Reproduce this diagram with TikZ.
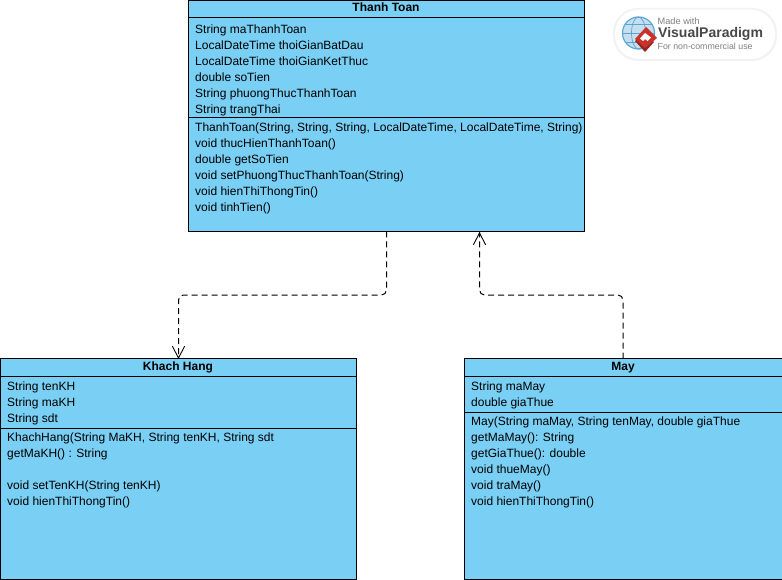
\documentclass[tikz,border=0pt]{standalone}
\usepackage{fontspec}
\setmainfont{Liberation Sans}
\usetikzlibrary{arrows.meta}
\definecolor{classfill}{HTML}{7ACFF5}
\definecolor{logogray}{HTML}{808080}
\definecolor{logodark}{HTML}{484848}
\definecolor{logoblue}{HTML}{5AA5D5}
\definecolor{logored}{HTML}{C8322B}
\tikzset{
  classbox/.style={draw=black,fill=classfill,line width=1pt,anchor=north west,inner sep=0pt,outer sep=0pt},
  classtitle/.style={font=\fontsize{12}{14}\selectfont\bfseries,inner sep=0pt,anchor=base},
  members/.style={font=\fontsize{12}{16}\selectfont,align=left,inner sep=0pt,anchor=north west},
  depend/.style={draw=black,line width=1pt,dash pattern=on 6pt off 4pt,rounded corners=5pt},
  depthead/.style={draw=black,line width=0.9pt,line cap=round},
  logotext/.style={inner sep=0pt,anchor=west}
}
\begin{document}
\begin{tikzpicture}[x=1pt,y=-1pt]
\useasboundingbox (0,0) rectangle (782,580);
\fill[white] (0,0) rectangle (782,580);
% class boxes
\node[classbox,minimum width=396pt,minimum height=231pt] (tt) at (188.5,0.5) {};
\node[classbox,minimum width=356pt,minimum height=221pt] (kh) at (0.5,358.5) {};
\node[classbox,minimum width=318pt,minimum height=221pt] (mm) at (464.5,358.5) {};
% compartment rules
\draw[line width=1pt] ([yshift=-17pt]tt.north west) -- ([yshift=-17pt]tt.north east);
\draw[line width=1pt] ([yshift=-117pt]tt.north west) -- ([yshift=-117pt]tt.north east);
\draw[line width=1pt] ([yshift=-18pt]kh.north west) -- ([yshift=-18pt]kh.north east);
\draw[line width=1pt] ([yshift=-70pt]kh.north west) -- ([yshift=-70pt]kh.north east);
\draw[line width=1pt] ([yshift=-18pt]mm.north west) -- ([yshift=-18pt]mm.north east);
\draw[line width=1pt] ([yshift=-54pt]mm.north west) -- ([yshift=-54pt]mm.north east);
% titles
\node[classtitle] (ttt) at (386,12) {Thanh Toan};
\node[classtitle] (kht) at (178,370) {Khach Hang};
\node[classtitle] (mmt) at (623,370) {May};
% members
\node[members] (tta) at (195,25) {String maThanhToan\\LocalDateTime thoiGianBatDau\\LocalDateTime thoiGianKetThuc\\double soTien\\String phuongThucThanhToan\\String trangThai};
\node[members] (ttm) at (195,123) {ThanhToan(String, String, String, LocalDateTime, LocalDateTime, String)\\void thucHienThanhToan()\\double getSoTien\\void setPhuongThucThanhToan(String)\\void hienThiThongTin()\\void tinhTien()};
\node[members] (kha) at (7,382) {String tenKH\\String maKH\\String sdt};
\node[members] (khm) at (7,433) {KhachHang(String MaKH, String tenKH, String sdt\\getMaKH() : String\\\mbox{}\\void setTenKH(String tenKH)\\void hienThiThongTin()};
\node[members] (mma) at (471,382) {String maMay\\double giaThue};
\node[members] (mmm) at (471,417) {May(String maMay, String tenMay, double giaThue\\getMaMay(): String\\getGiaThue(): double\\void thueMay()\\void traMay()\\void hienThiThongTin()};
% dependencies
\coordinate (ttout) at (tt.south);
\coordinate (ttin) at ([xshift=93pt]tt.south);
\coordinate (khin) at (kh.north);
\coordinate (mmout) at ([xshift=-0.5pt]mm.north);
\path[depend] (ttout) -- ++(0,63.5) -| (khin);
\path[depend] (mmout) -- ++(0,-63.5) -| ([yshift=-1pt]ttin);
\draw[depthead] ([xshift=-6pt,yshift=12pt]khin) -- ([yshift=0.5pt]khin) -- ([xshift=6pt,yshift=12pt]khin);
\draw[depthead] ([xshift=-6pt,yshift=-13pt]ttin) -- ([yshift=-1.5pt]ttin) -- ([xshift=6pt,yshift=-13pt]ttin);
% watermark
\fill[black!5,rounded corners=25pt] (613,8) rectangle (777,61);
\fill[white,rounded corners=24pt] (615,9.5) rectangle (775,59);
\fill[logoblue!35] (638.5,33) circle (16.5);
\draw[logoblue,line width=1.1pt] (638.5,33) circle (16);
\draw[logoblue,line width=0.7pt] (638.5,33) ellipse (7 and 16);
\draw[logoblue,line width=0.7pt] (622.5,33) -- (654.5,33) (625,24) -- (652,24) (625,42) -- (652,42);
\fill[logored!75!black] (635,41) -- (644,33) -- (654,42) -- (645,52) -- cycle;
\fill[logored] (646,27) -- (657,38) -- (645,48) -- (635,39) -- cycle;
\fill[white] (645,33) -- (651,37.5) -- (647.5,41) -- (645,39) -- (643,41) -- (640,38.5) -- cycle;
\node[logotext,text=logogray,font=\fontsize{9.2}{12}\selectfont] (lg1) at (657.5,21.5) {Made with};
\node[logotext,text=logodark,font=\fontsize{14}{16}\selectfont\bfseries] (lg2) at (658,33.5) {VisualParadigm};
\node[logotext,text=logogray,font=\fontsize{8.8}{12}\selectfont] (lg3) at (657.5,46) {For non-commercial use};
\end{tikzpicture}
\end{document}
